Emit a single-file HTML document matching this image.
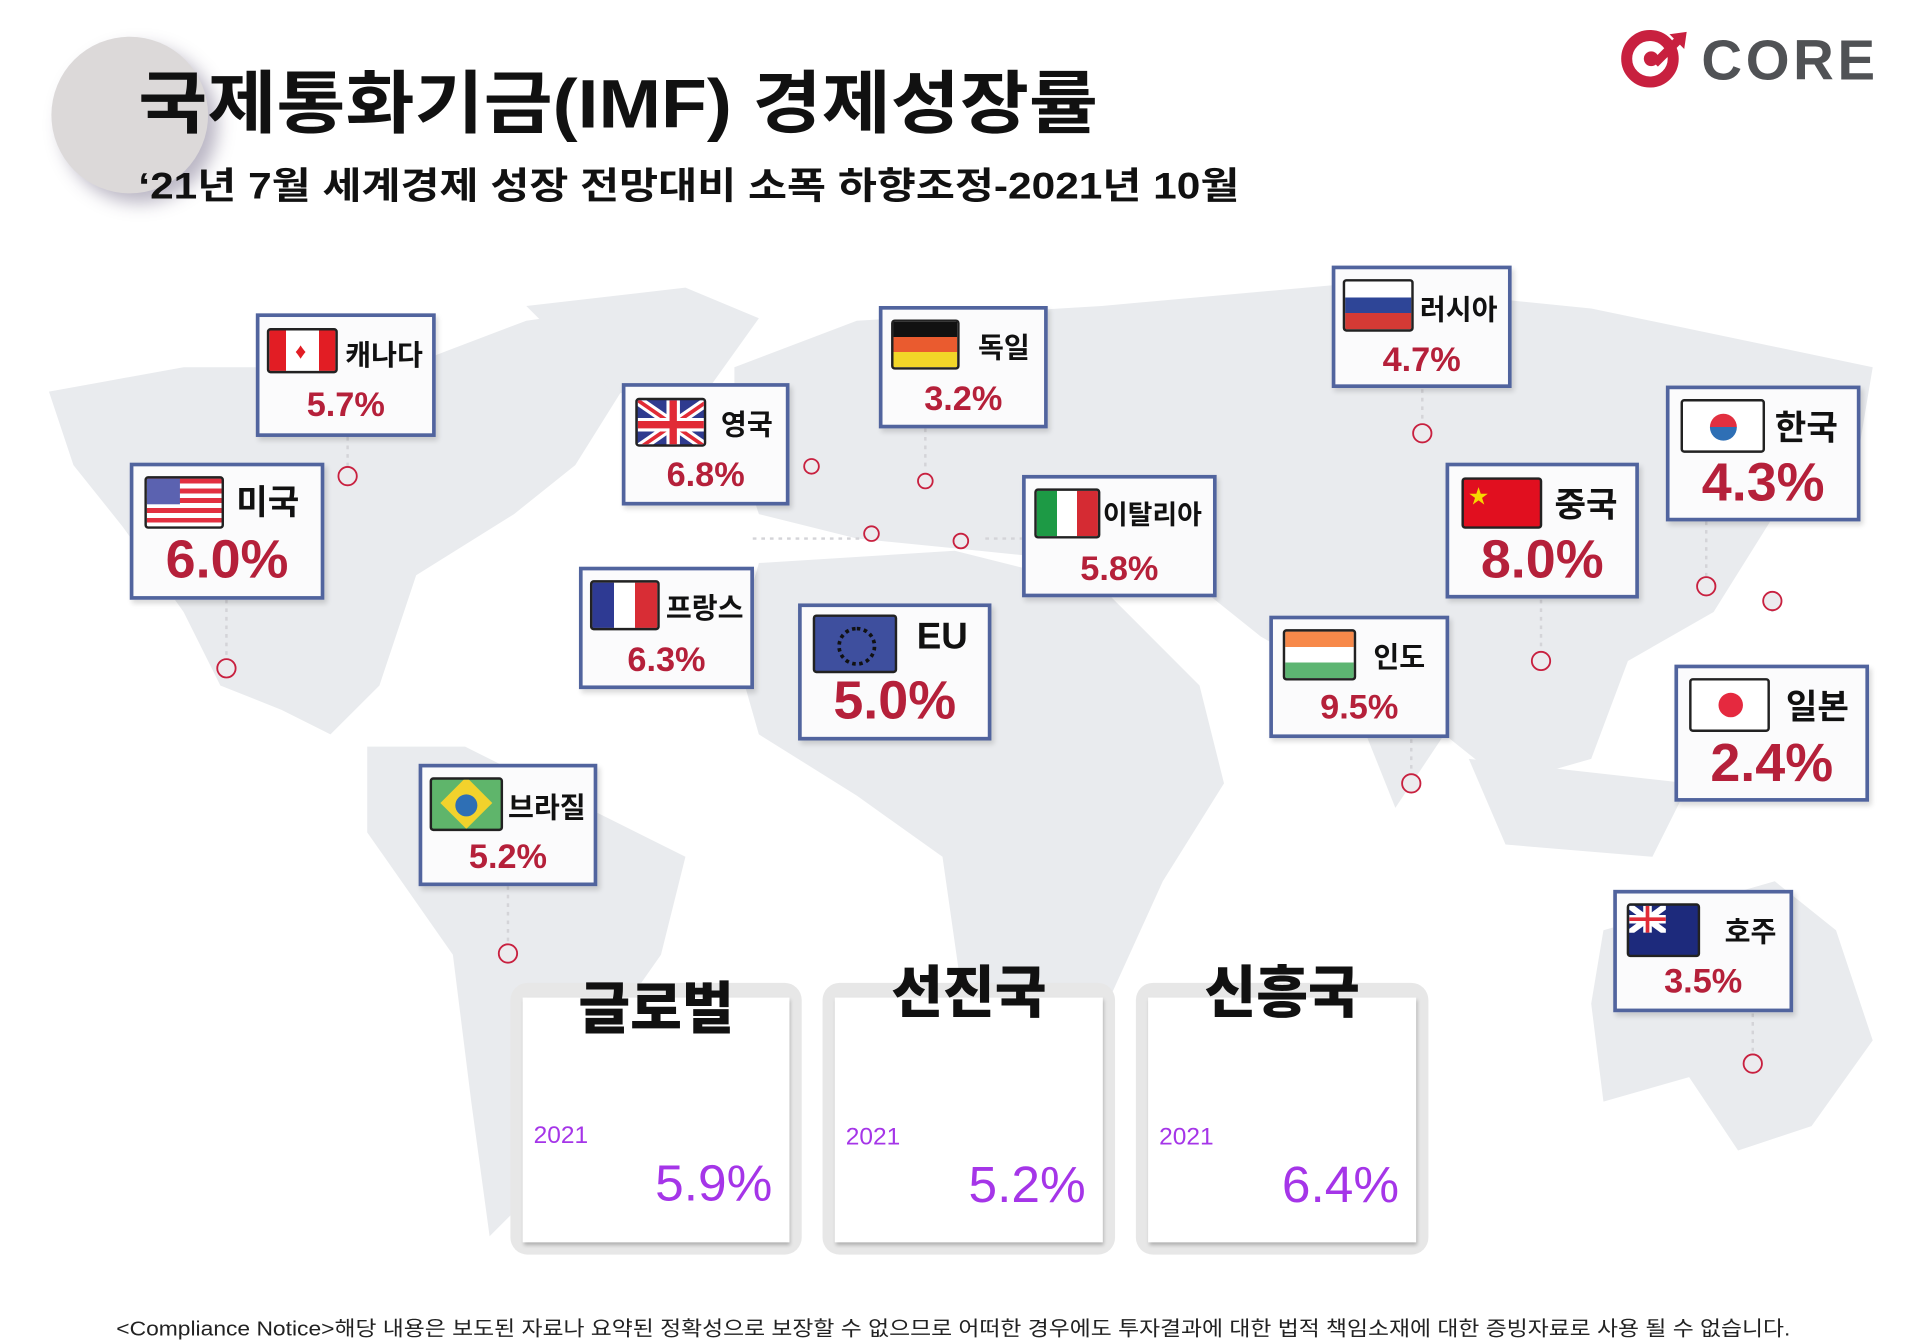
<!DOCTYPE html>
<html><head><meta charset="utf-8"><style>
html,body{margin:0;padding:0;background:#fff;overflow:hidden}
body{width:1919px;height:1340px}
#s{position:absolute;left:0;top:0;width:1570px;height:1096px;transform:scale(1.2240);transform-origin:0 0;font-family:"Liberation Sans","Noto Sans CJK KR",sans-serif}
.a{position:absolute}
.box{position:absolute;background:#fbfbfc;border:3px solid #51649e;box-sizing:border-box;box-shadow:2px 3px 4px rgba(0,0,0,.15)}
.fl{position:absolute;border:2px solid #222;box-sizing:border-box;border-radius:3px;overflow:hidden}
.nm{position:absolute;font-weight:bold;color:#111;white-space:nowrap}
.v{position:absolute;left:0;right:0;text-align:center;color:#b5203a;font-weight:bold;white-space:nowrap}
.card{position:absolute;background:#e7e7e7;border-radius:14px}
.ci{position:absolute;left:10px;top:12px;right:10px;bottom:10px;background:#fff;box-shadow:1px 2px 3px rgba(0,0,0,.25)}
.ct{position:absolute;left:0;right:0;text-align:center;font-weight:900;font-size:46px;color:#111}
.yr{position:absolute;color:#a535e8;font-size:20px}
.pv{position:absolute;color:#a535e8;font-size:42px;right:24px}
</style></head><body><div id="s">
<div class="a" style="left:42px;top:30px;width:128px;height:128px;border-radius:50%;background:#dcd9d9;box-shadow:8px 8px 14px rgba(60,50,90,.35)"></div>
<div class="a" style="left:113px;top:40px;font-size:56px;font-weight:bold;color:#111;white-space:nowrap;transform:scaleX(1.095);transform-origin:0 0">국제통화기금(IMF) 경제성장률</div>
<div class="a" style="left:113px;top:127px;font-size:30px;font-weight:bold;color:#111;white-space:nowrap;transform:scaleX(1.155);transform-origin:0 0">‘21년 7월 세계경제 성장 전망대비 소폭 하향조정-2021년 10월</div>
<svg class="a" style="left:1322px;top:24px" width="64" height="50"><circle cx="26" cy="24" r="19" fill="none" stroke="#c8203f" stroke-width="9"/><circle cx="27" cy="24" r="6" fill="#c8203f"/><path d="M30 28 L52 6" stroke="#c8203f" stroke-width="7"/><path d="M42 4 L56 2 L54 16Z" fill="#c8203f"/></svg>
<div class="a" style="left:1390px;top:22px;font-size:46px;font-weight:900;color:#505255;letter-spacing:3px">CORE</div>
<svg class="a" style="left:0;top:0" width="1570" height="1096"><g fill="#e9ebee">
<polygon points="40,320 150,300 330,300 430,262 500,252 520,300 470,380 420,420 340,470 310,560 270,600 230,580 180,560 150,500 100,430 60,380"/>
<polygon points="430,250 560,235 620,260 570,330 500,320"/>
<polygon points="300,610 380,610 460,650 560,700 540,780 470,880 430,980 400,1010 385,900 370,780 300,680"/>
<polygon points="600,300 700,262 900,250 1100,232 1300,252 1530,300 1520,360 1450,420 1400,500 1330,540 1300,620 1230,640 1180,600 1140,660 1100,560 1030,520 980,480 900,460 800,450 700,440 620,420 600,360"/>
<polygon points="620,460 780,450 900,480 980,560 1000,640 950,720 900,830 840,880 790,840 770,700 700,650 620,600 600,530"/>
<polygon points="1200,620 1380,640 1350,700 1230,690"/>
<polygon points="1310,760 1450,720 1500,760 1530,850 1480,920 1420,940 1380,880 1310,900 1300,820"/>
</g>
<g stroke="#d4d4d8" stroke-width="2" stroke-dasharray="3,4">
<path d="M284 357V381M185 490V538M756 350V385M1162 318V346M1394 426V471M1448 500V483M1259 490V532M1153 604V632M415 724V771M1432 828V861M805 440H835M615 440H705"/>
</g>
<g fill="#ecebee" stroke="#c8203f" stroke-width="1.5">
<circle cx="284" cy="389" r="7.5"/><circle cx="185" cy="546" r="7.5"/><circle cx="663" cy="381" r="6"/><circle cx="756" cy="393" r="6"/><circle cx="712" cy="436" r="6"/><circle cx="785" cy="442" r="6"/><circle cx="1162" cy="354" r="7.5"/><circle cx="1394" cy="479" r="7.5"/><circle cx="1448" cy="491" r="7.5"/><circle cx="1259" cy="540" r="7.5"/><circle cx="1153" cy="640" r="7.5"/><circle cx="415" cy="779" r="7.5"/><circle cx="1432" cy="869" r="7.5"/>
</g></svg>

<div class="box" style="left:209px;top:256px;width:147px;height:101px"><div class="fl" style="left:6px;top:9px;width:58px;height:37px;background:linear-gradient(90deg,#e21d24 25%,#fff 25%,#fff 75%,#e21d24 75%)"><div style="position:absolute;left:21px;top:8px;color:#e21d24;font-size:18px;line-height:18px">♦</div></div><div class="nm" style="left:70px;top:12px;font-size:23px">캐나다</div><div class="v" style="top:56px;font-size:28px">5.7%</div></div>
<div class="box" style="left:106px;top:378px;width:159px;height:112px"><div class="fl" style="left:9px;top:8px;width:65px;height:43px;background:repeating-linear-gradient(#e23040 0 4px,#fff 4px 8px)"><div style="position:absolute;left:0;top:0;width:27px;height:21px;background:#5b62b0"></div></div><div class="nm" style="left:84px;top:8px;font-size:28px">미국</div><div class="v" style="top:52px;font-size:44px">6.0%</div></div>
<div class="box" style="left:508px;top:313px;width:137px;height:100px"><div class="fl" style="left:8px;top:9px;width:58px;height:40px;background:#2f3b8f"><svg width="58" height="40"><path d="M0 0L58 40M58 0L0 40" stroke="#fff" stroke-width="8"/><path d="M0 0L58 40M58 0L0 40" stroke="#e12b36" stroke-width="3"/><path d="M29 0V40M0 20H58" stroke="#fff" stroke-width="11"/><path d="M29 0V40M0 20H58" stroke="#e12b36" stroke-width="6"/></svg></div><div class="nm" style="left:78px;top:12px;font-size:23px">영국</div><div class="v" style="top:56px;font-size:28px">6.8%</div></div>
<div class="box" style="left:718px;top:250px;width:138px;height:100px"><div class="fl" style="left:7px;top:8px;width:56px;height:41px;background:linear-gradient(#111 33%,#ea5b2f 33%,#ea5b2f 66%,#f2d628 66%)"></div><div class="nm" style="left:78px;top:12px;font-size:23px">독일</div><div class="v" style="top:57px;font-size:28px">3.2%</div></div>
<div class="box" style="left:1088px;top:217px;width:147px;height:100px"><div class="fl" style="left:6px;top:8px;width:58px;height:43px;background:linear-gradient(#fff 33%,#2e4597 33%,#2e4597 66%,#d43a35 66%)"></div><div class="nm" style="left:69px;top:14px;font-size:23px">러시아</div><div class="v" style="top:58px;font-size:28px">4.7%</div></div>
<div class="box" style="left:1361px;top:315px;width:159px;height:111px"><div class="fl" style="left:9px;top:8px;width:69px;height:44px;background:#fff"><div style="position:absolute;left:22px;top:10px;width:22px;height:22px;border-radius:50%;background:linear-gradient(#e23040 50%,#2e6fb5 50%)"></div></div><div class="nm" style="left:86px;top:10px;font-size:28px">한국</div><div class="v" style="top:52px;font-size:44px">4.3%</div></div>
<div class="box" style="left:835px;top:388px;width:159px;height:100px"><div class="fl" style="left:7px;top:8px;width:54px;height:41px;background:linear-gradient(90deg,#1d9a45 33%,#fff 33%,#fff 66%,#d52b33 66%)"></div><div class="nm" style="left:63px;top:12px;font-size:22px">이탈리아</div><div class="v" style="top:58px;font-size:28px">5.8%</div></div>
<div class="box" style="left:1181px;top:378px;width:158px;height:111px"><div class="fl" style="left:10px;top:9px;width:66px;height:42px;background:#e10f1f"><div style="position:absolute;left:4px;top:0;color:#f6d700;font-size:16px">★</div></div><div class="nm" style="left:86px;top:10px;font-size:28px">중국</div><div class="v" style="top:52px;font-size:44px">8.0%</div></div>
<div class="box" style="left:473px;top:463px;width:143px;height:100px"><div class="fl" style="left:6px;top:8px;width:57px;height:41px;background:linear-gradient(90deg,#2e3a93 33%,#fff 33%,#fff 66%,#d82d35 66%)"></div><div class="nm" style="left:68px;top:12px;font-size:23px">프랑스</div><div class="v" style="top:57px;font-size:28px">6.3%</div></div>
<div class="box" style="left:652px;top:493px;width:158px;height:112px"><div class="fl" style="left:9px;top:6px;width:69px;height:48px;background:#3e4f9e"><div style="position:absolute;left:18px;top:8px;width:26px;height:26px;border-radius:50%;border:3px dotted #111"></div></div><div class="nm" style="left:94px;top:8px;font-size:30px">EU</div><div class="v" style="top:52px;font-size:44px">5.0%</div></div>
<div class="box" style="left:1037px;top:503px;width:147px;height:100px"><div class="fl" style="left:8px;top:8px;width:60px;height:42px;background:linear-gradient(#f7894a 33%,#fff 33%,#fff 66%,#5db572 66%)"></div><div class="nm" style="left:82px;top:12px;font-size:23px">인도</div><div class="v" style="top:56px;font-size:28px">9.5%</div></div>
<div class="box" style="left:1368px;top:543px;width:159px;height:112px"><div class="fl" style="left:9px;top:8px;width:66px;height:44px;background:#fff"><div style="position:absolute;left:22px;top:10px;width:20px;height:20px;border-radius:50%;background:#e5293f"></div></div><div class="nm" style="left:88px;top:10px;font-size:28px">일본</div><div class="v" style="top:53px;font-size:44px">2.4%</div></div>
<div class="box" style="left:342px;top:624px;width:146px;height:100px"><div class="fl" style="left:6px;top:8px;width:60px;height:44px;background:#5fb56b"><div style="position:absolute;left:13px;top:4px;width:30px;height:30px;background:#f2d22c;transform:rotate(45deg)"></div><div style="position:absolute;left:19px;top:12px;width:18px;height:18px;border-radius:50%;background:#2e6fb5"></div></div><div class="nm" style="left:70px;top:14px;font-size:23px">브라질</div><div class="v" style="top:57px;font-size:28px">5.2%</div></div>
<div class="box" style="left:1318px;top:727px;width:147px;height:100px"><div class="fl" style="left:8px;top:8px;width:60px;height:44px;background:#1d2a7c"><svg width="30" height="22"><path d="M0 0L30 22M30 0L0 22" stroke="#fff" stroke-width="5"/><path d="M15 0V22M0 11H30" stroke="#fff" stroke-width="7"/><path d="M15 0V22M0 11H30" stroke="#e12b36" stroke-width="3"/></svg></div><div class="nm" style="left:88px;top:12px;font-size:23px">호주</div><div class="v" style="top:56px;font-size:28px">3.5%</div></div>

<div class="card" style="left:417px;top:803px;width:238px;height:222px"><div class="ci"></div><div class="ct" style="top:-15px">글로벌</div><div class="yr" style="left:19px;top:114px">2021</div><div class="pv" style="top:140px">5.9%</div></div>
<div class="card" style="left:672px;top:803px;width:239px;height:222px"><div class="ci"></div><div class="ct" style="top:-28px">선진국</div><div class="yr" style="left:19px;top:115px">2021</div><div class="pv" style="top:141px">5.2%</div></div>
<div class="card" style="left:928px;top:803px;width:239px;height:222px"><div class="ci"></div><div class="ct" style="top:-28px">신흥국</div><div class="yr" style="left:19px;top:115px">2021</div><div class="pv" style="top:141px">6.4%</div></div>

<div class="a" style="left:95px;top:1072px;font-size:16.5px;color:#222;white-space:nowrap;transform:scaleX(1.13);transform-origin:0 0">&lt;Compliance Notice&gt;해당 내용은 보도된 자료나 요약된 정확성으로 보장할 수 없으므로 어떠한 경우에도 투자결과에 대한 법적 책임소재에 대한 증빙자료로 사용 될 수 없습니다.</div>
</div></body></html>
